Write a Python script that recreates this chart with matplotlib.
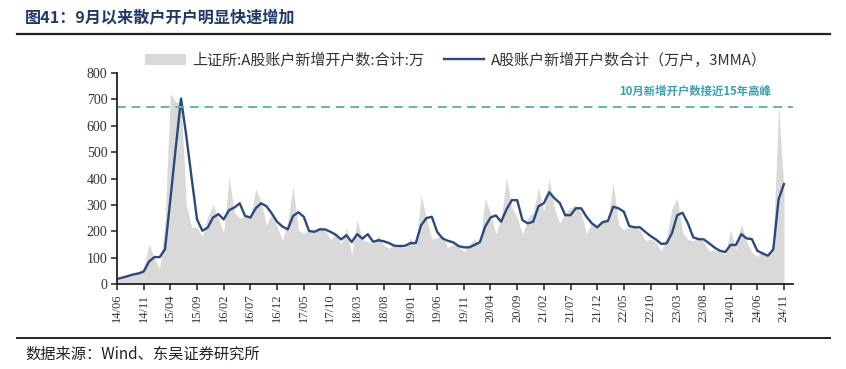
import pandas as pd
import matplotlib
matplotlib.use("Agg")
import matplotlib.pyplot as plt
from matplotlib.lines import Line2D

plt.rcParams['font.family'] = ['Noto Sans CJK SC', 'DejaVu Sans']

# months 2014/06 .. 2024/11
months = pd.period_range('2014-06', '2024-11', freq='M')
month_labels = [p.strftime('%y/%m') for p in months]

# 上证所:A股账户新增开户数:合计 (万)
new_accounts = [
    14, 22, 32, 40, 38, 62, 150, 100, 58, 235,
    722, 690, 690, 300, 215, 215, 180, 255, 300, 250,
    195, 405, 270, 250, 258, 248, 360, 312, 222, 270,
    218, 165, 238, 368, 205, 192, 205, 200, 218, 203,
    168, 192, 150, 212, 112, 243, 168, 160, 154, 184,
    147, 135, 152, 145, 138, 175, 145, 338, 250, 170,
    175, 185, 138, 150, 145, 122, 148, 170, 150, 325,
    268, 190, 245, 405, 290, 255, 187, 250, 270, 364,
    275, 400, 285, 230, 270, 290, 300, 270, 190, 235,
    220, 245, 245, 385, 225, 205, 215, 215, 205, 165,
    170, 160, 125, 175, 285, 325, 195, 168, 165, 175,
    160, 125, 130, 121, 112, 205, 132, 230, 160, 120,
    105, 125, 100, 155, 674, 360,
]

# 3MMA line (万户)
accounts_3mma = [
    19, 24, 30, 36, 40, 47, 85, 102, 102, 132,
    320, 515, 703, 560, 400, 245, 202, 214, 252, 265,
    245, 280, 290, 306, 258, 252, 287, 306, 295, 268,
    236, 218, 207, 258, 272, 255, 201, 198, 207, 207,
    198, 187, 169, 185, 159, 189, 172, 189, 160, 166,
    162, 155, 145, 144, 145, 155, 155, 223, 250, 255,
    198, 173, 164, 158, 144, 139, 139, 148, 158, 217,
    252, 260, 236, 283, 318, 318, 242, 230, 236, 295,
    306, 348, 325, 307, 261, 261, 287, 287, 255, 230,
    215, 234, 239, 293, 287, 274, 220, 215, 215, 198,
    182, 169, 152, 154, 192, 261, 270, 230, 177, 170,
    169, 154, 138, 126, 121, 148, 148, 189, 173, 170,
    126, 116, 107, 131, 321, 379,
]

peak_level = 670
peak_note = '10月新增开户数接近15年高峰'

x = list(range(len(months)))

fig = plt.figure(figsize=(8.46, 3.69), dpi=100)
ax = fig.add_axes([117 / 846, 1 - 284 / 369, 676 / 846, 211 / 369])

ax.fill_between(x, new_accounts, 0, color='#d9d9d9', lw=0,
                label='上证所:A股账户新增开户数:合计:万')
ax.plot(x, accounts_3mma, color='#2a4a7b', lw=1.7,
        label='A股账户新增开户数合计（万户，3MMA）')
ax.axhline(peak_level, color='#5bb3c4', lw=1.4, ls=(0, (4.5, 3)))
ax.text(122.6, 731, peak_note, ha='right', va='center', fontsize=8.2,
        fontweight='bold', color='#3a9fb0')

ax.set_xlim(0, 126.7)
ax.set_ylim(0, 800)
ax.set_yticks(range(0, 801, 100))
ticks = x[::5]
ax.set_xticks(ticks)
ax.set_xticklabels([month_labels[i] for i in ticks], rotation=90,
                   fontsize=9, family='Liberation Serif', color='#333333')
for lab in ax.get_yticklabels():
    lab.set_fontfamily('Liberation Serif')
    lab.set_fontsize(10)
    lab.set_color('#333333')

for s in ['top', 'right']:
    ax.spines[s].set_visible(False)
for s in ['left', 'bottom']:
    ax.spines[s].set_color('#222222')
    ax.spines[s].set_linewidth(1.3)
ax.tick_params(direction='out', length=4, width=1.1, color='#222222', pad=3)

fig.legend(loc='center', bbox_to_anchor=(456 / 846, 1 - 60 / 369), ncol=2,
           frameon=False, fontsize=10.8, handlelength=2.7, handletextpad=0.45,
           columnspacing=1.3, labelcolor='#333333')

fig.text(25 / 846, 1 - 18 / 369, '图41：9月以来散户开户明显快速增加',
         fontsize=11.6, fontweight='bold', color='#1f3a68', va='center')
fig.add_artist(Line2D([17 / 846, 830 / 846], [1 - 34 / 369] * 2,
                      transform=fig.transFigure, color='#222222', lw=1.6))
fig.add_artist(Line2D([17 / 846, 830 / 846], [1 - 338 / 369] * 2,
                      transform=fig.transFigure, color='#222222', lw=1.4))
fig.text(25 / 846, 1 - 354 / 369, '数据来源：Wind、东吴证券研究所',
         fontsize=11, color='#222222', va='center')

fig.savefig('out.png', dpi=100)
